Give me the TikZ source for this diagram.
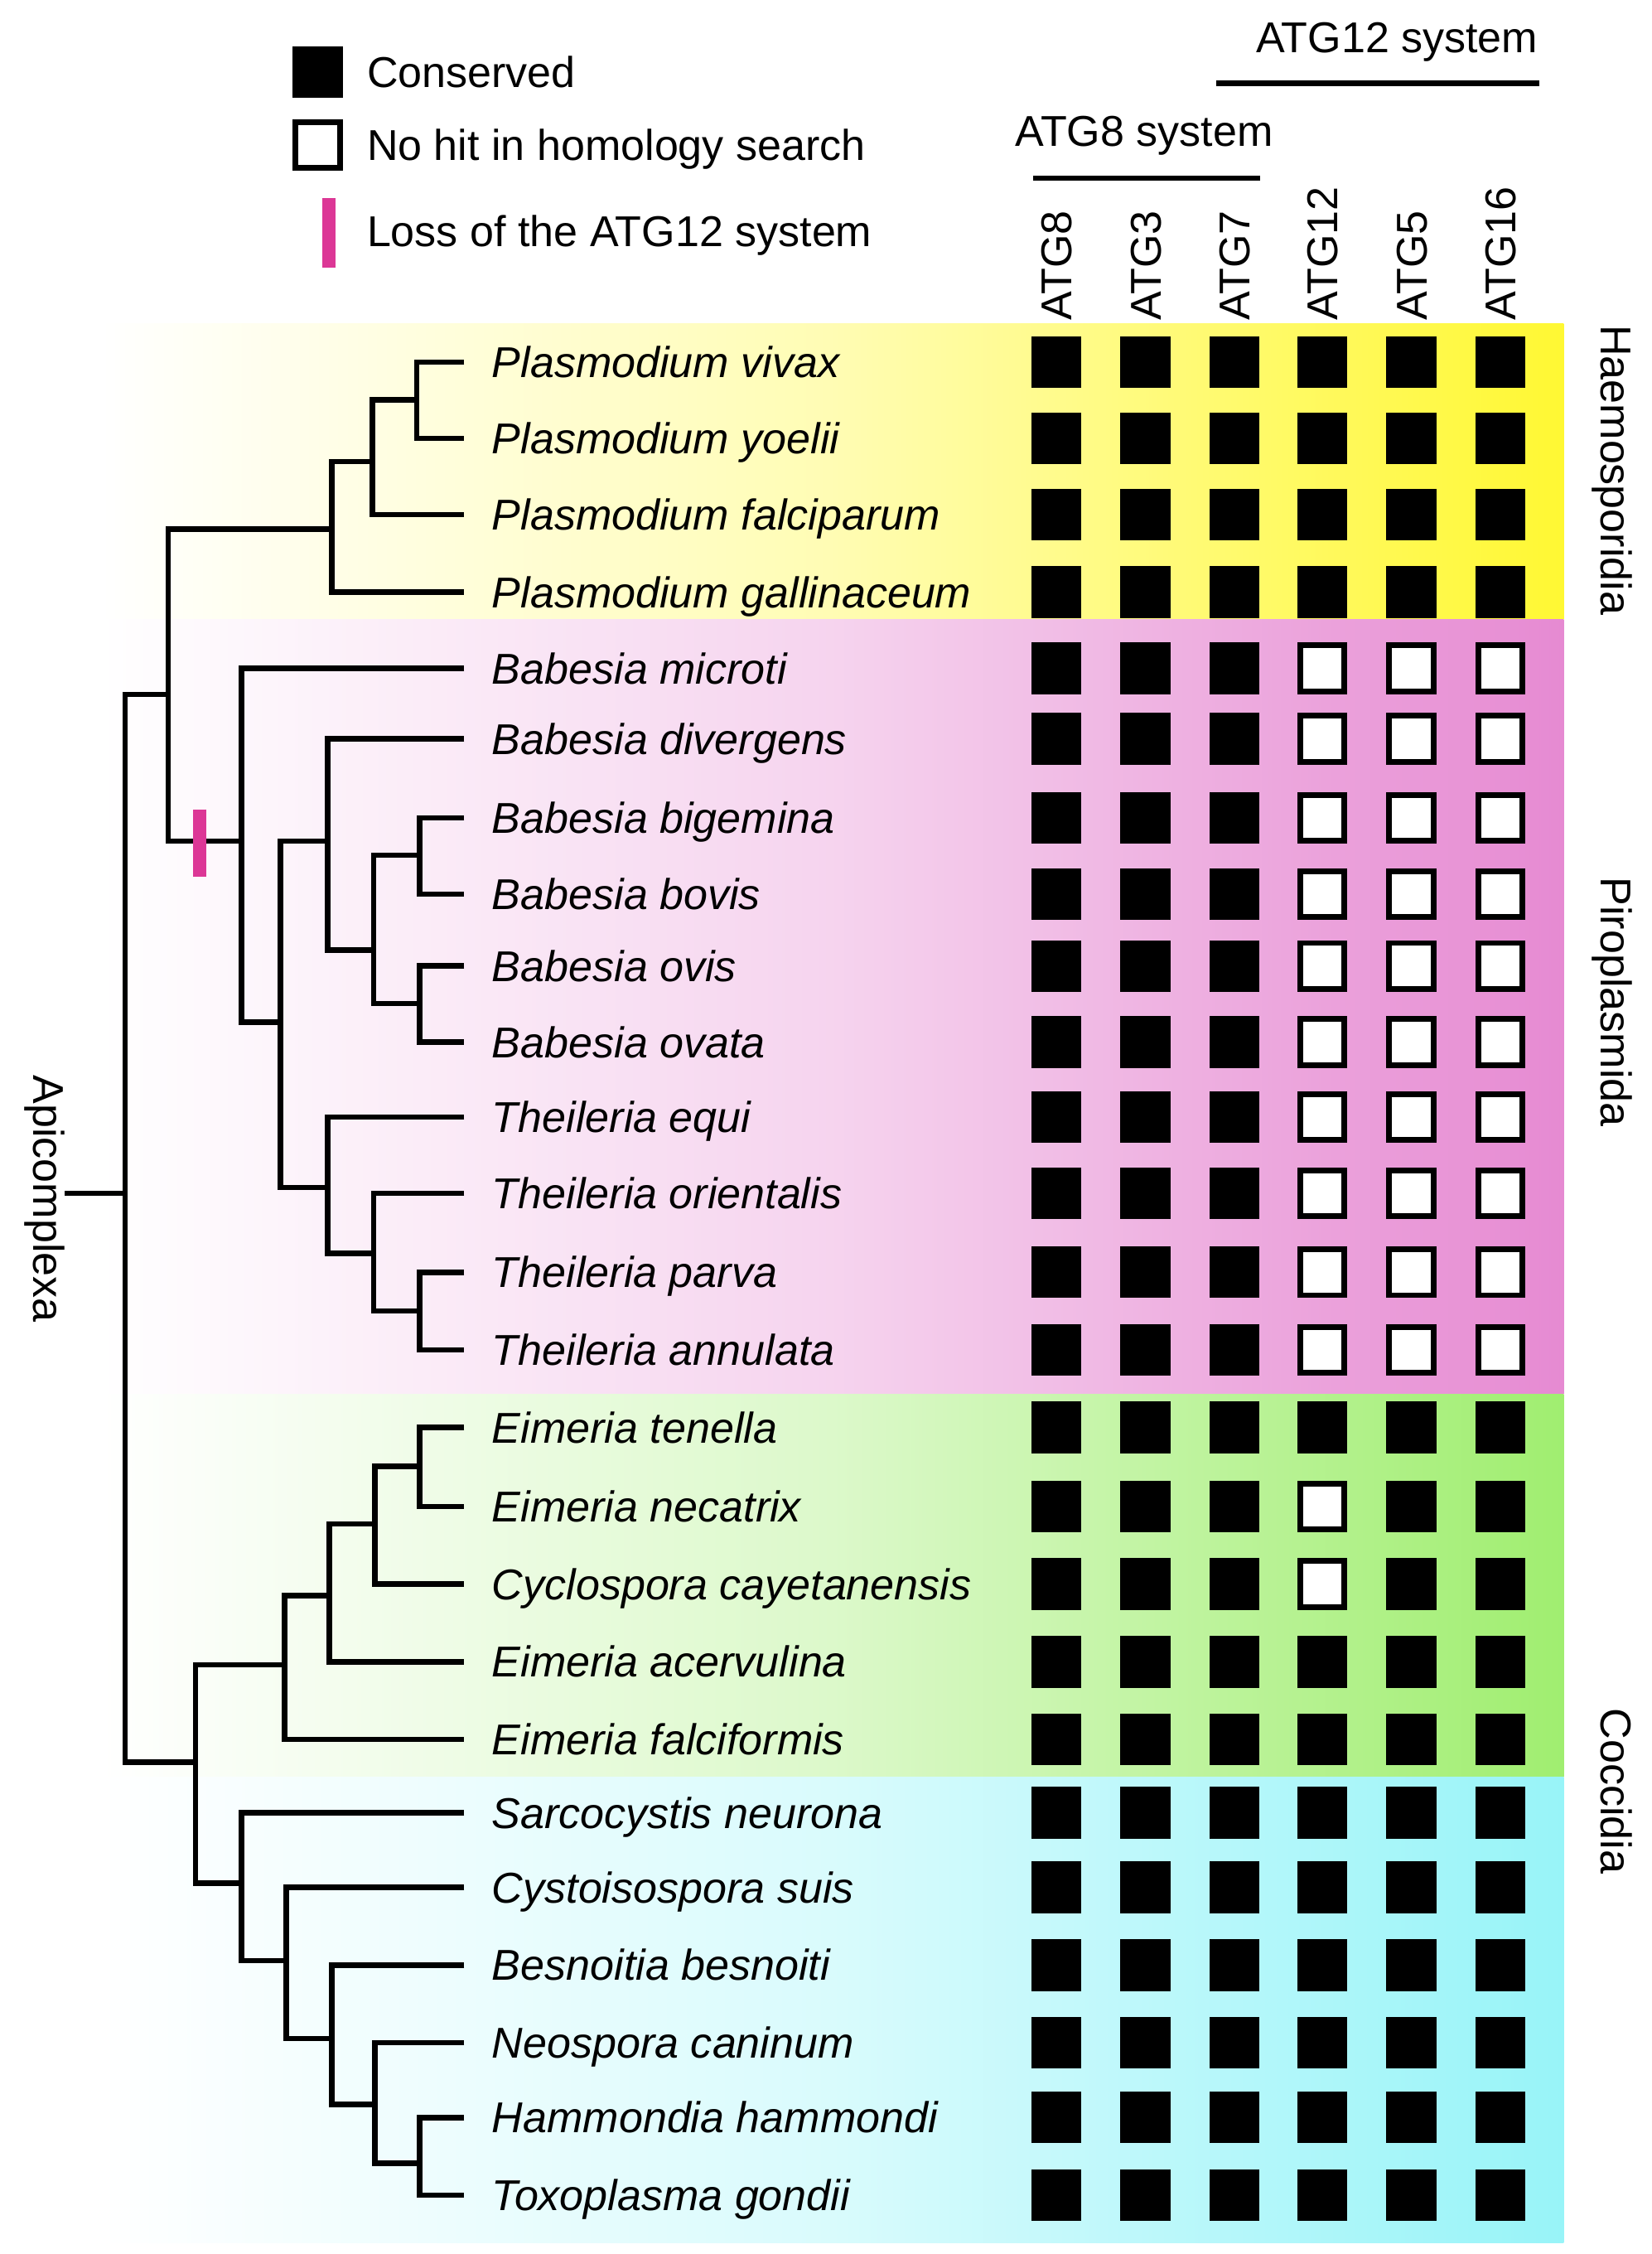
\documentclass[tikz,border=0pt]{standalone}
\usepackage{fontspec}
\setmainfont{Liberation Sans}
\definecolor{haemo}{RGB}{255,248,51}
\definecolor{piro}{RGB}{230,138,210}
\definecolor{eimer}{RGB}{160,238,112}
\definecolor{sarco}{RGB}{152,244,248}
\definecolor{lossmark}{RGB}{220,55,150}
\begin{document}
\begin{tikzpicture}[x=0.5pt, y=-0.5pt,
    every node/.style={font=\fontsize{15pt}{18pt}\selectfont, inner sep=0pt, text height=10.7pt, text depth=0pt},
    band/.style={left color=white, right color=#1, middle color=#1!37!white},
    branch/.style={line width=1.9pt},
    loss/.style={draw=lossmark, line width=4.6pt},
    cons/.style={fill=black, minimum width=17.5pt, minimum height=18pt},
    nohit/.style={draw, fill=white, line width=2pt, minimum width=15.5pt, minimum height=16pt},
    species/.style={anchor=west, font=\fontsize{15pt}{18pt}\selectfont\itshape},
    gene/.style={rotate=90, anchor=west},
    clade/.style={rotate=-90}]
    \useasboundingbox (0,0) rectangle (1149,1568);
    \shade[band=haemo] (70,225) rectangle (1088,431);
    \shade[band=piro] (70,431) rectangle (1088,970);
    \shade[band=eimer] (70,970) rectangle (1088,1236);
    \shade[band=sarco] (70,1236) rectangle (1088,1560);

    \node[cons] (keycons) at (221,50) {};
    \node[nohit] (keynohit) at (221,101) {};
    \draw[loss] (229,138) -- (229,186);
    \node[anchor=west] (keytext1) at (255,50) {Conserved};
    \node[anchor=west] (keytext2) at (255,101) {No hit in homology search};
    \node[anchor=west] (keytext3) at (255,161) {Loss of the ATG12 system};

    \node (sys12) at (972,26) {ATG12 system};
    \draw[branch] (846,58) -- (1071,58);
    \node (sys8) at (796,91) {ATG8 system};
    \draw[branch] (719,124) -- (877,124);
    \foreach \x/\g in {735/ATG8, 797/ATG3, 859/ATG7, 920/ATG12, 982/ATG5, 1044/ATG16}
        \node[gene] (\g) at (\x,223) {\g};

    \foreach \y/\name/\k [count=\i] in {252/Plasmodium vivax/0, 305/Plasmodium yoelii/0,
        358/Plasmodium falciparum/0, 412/Plasmodium gallinaceum/0, 465/Babesia microti/1,
        514/Babesia divergens/1, 569/Babesia bigemina/1, 622/Babesia bovis/1,
        672/Babesia ovis/1, 725/Babesia ovata/1, 777/Theileria equi/1,
        830/Theileria orientalis/1, 885/Theileria parva/1, 939/Theileria annulata/1,
        993/Eimeria tenella/0, 1048/Eimeria necatrix/2, 1102/Cyclospora cayetanensis/2,
        1156/Eimeria acervulina/0, 1210/Eimeria falciformis/0, 1261/Sarcocystis neurona/0,
        1313/Cystoisospora suis/0, 1367/Besnoitia besnoiti/0, 1421/Neospora caninum/0,
        1473/Hammondia hammondi/0, 1527/Toxoplasma gondii/0}
    {
        \coordinate (t\i) at (323,\y);
        \node[species] (sp\i) at (342,\y) {\name};
        \foreach \x [count=\j] in {735,797,859,920,982,1044}
        {
            \pgfmathtruncatemacro\miss{(\k==1)*(\j>3)+(\k==2)*(\j==4)}
            \ifnum\miss>0
                \node[nohit] (b\i-\j) at (\x,\y) {};
            \else
                \node[cons] (b\i-\j) at (\x,\y) {};
            \fi
        }
    }

    \coordinate (plas1) at (290,278);
    \coordinate (plas2) at (259,321);
    \coordinate (plas3) at (231,368);
    \coordinate (bab1) at (292,595);
    \coordinate (bab2) at (292,698);
    \coordinate (bab3) at (260,661);
    \coordinate (bab4) at (228,585);
    \coordinate (thei1) at (292,912);
    \coordinate (thei2) at (260,872);
    \coordinate (thei3) at (228,826);
    \coordinate (piro1) at (195,711);
    \coordinate (piro2) at (168,585);
    \coordinate (hapi) at (117,483);
    \coordinate (eim1) at (292,1020);
    \coordinate (eim2) at (261,1060);
    \coordinate (eim3) at (229,1110);
    \coordinate (eim4) at (198,1158);
    \coordinate (sar1) at (292,1505);
    \coordinate (sar2) at (261,1464);
    \coordinate (sar3) at (231,1418);
    \coordinate (sar4) at (199,1364);
    \coordinate (sar5) at (168,1310);
    \coordinate (cocc) at (136,1226);
    \coordinate (apic) at (87,830);
    \coordinate (stem) at (45,830);

    \draw[branch] (t1) -| (plas1) |- (t2);
    \draw[branch] (plas1) -| (plas2) |- (t3);
    \draw[branch] (plas2) -| (plas3) |- (t4);
    \draw[branch] (t7) -| (bab1) |- (t8);
    \draw[branch] (t9) -| (bab2) |- (t10);
    \draw[branch] (bab1) -| (bab3) |- (bab2);
    \draw[branch] (t6) -| (bab4) |- (bab3);
    \draw[branch] (t13) -| (thei1) |- (t14);
    \draw[branch] (t12) -| (thei2) |- (thei1);
    \draw[branch] (t11) -| (thei3) |- (thei2);
    \draw[branch] (bab4) -| (piro1) |- (thei3);
    \draw[branch] (t5) -| (piro2) |- (piro1);
    \draw[branch] (plas3) -| (hapi) |- (piro2);
    \draw[branch] (t15) -| (eim1) |- (t16);
    \draw[branch] (eim1) -| (eim2) |- (t17);
    \draw[branch] (eim2) -| (eim3) |- (t18);
    \draw[branch] (eim3) -| (eim4) |- (t19);
    \draw[branch] (t24) -| (sar1) |- (t25);
    \draw[branch] (t23) -| (sar2) |- (sar1);
    \draw[branch] (t22) -| (sar3) |- (sar2);
    \draw[branch] (t21) -| (sar4) |- (sar3);
    \draw[branch] (t20) -| (sar5) |- (sar4);
    \draw[branch] (eim4) -| (cocc) |- (sar5);
    \draw[branch] (hapi) -| (apic) |- (cocc);
    \draw[branch] (apic) -- (stem);
    \draw[loss] (139,563) -- (139,610);

    \node[clade] (lbhaemo) at (1125,327) {Haemosporidia};
    \node[clade] (lbpiro) at (1125,697) {Piroplasmida};
    \node[clade] (lbcocc) at (1125,1246) {Coccidia};
    \node[clade] (lbapic) at (34,834) {Apicomplexa};
\end{tikzpicture}
\end{document}
